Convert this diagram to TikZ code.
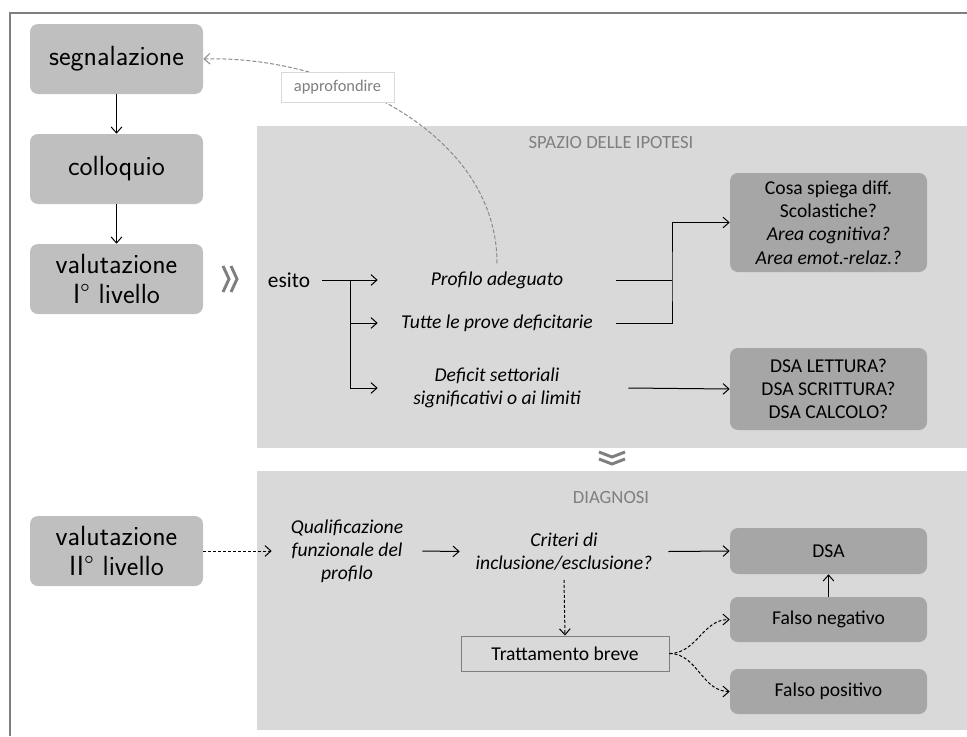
\documentclass[tikz,border=0pt]{standalone}
\usepackage{fontspec}
\setmainfont{Carlito}
\usetikzlibrary{arrows.meta}
\definecolor{cframe}{HTML}{7F7F7F}
\definecolor{cpanel}{HTML}{D9D9D9}
\definecolor{cmain}{HTML}{BFBFBF}
\definecolor{cdark}{HTML}{A6A6A6}
\definecolor{clabel}{HTML}{D9D9D9}
\definecolor{ccurve}{HTML}{8C8C8C}
\tikzset{
  mainbox/.style={rounded corners=6pt, fill=cmain, minimum width=129.75pt, minimum height=52.5pt, inner sep=0pt, align=center, font=\sffamily\fontsize{20.8}{22.5}\selectfont},
  darkbox/.style={rounded corners=6pt, fill=cdark, minimum width=147.75pt, inner sep=0pt, align=center, font=\fontsize{14.7}{17.5}\selectfont},
  itext/.style={inner sep=0pt, align=center, font=\itshape\fontsize{14.7}{17.25}\selectfont},
  conn/.style={line width=0.75pt, draw=black},
  arr/.style={conn, -{Straight Barb[length=4.5pt,width=8pt]}},
  darr/.style={arr, dash pattern=on 2.25pt off 1.5pt},
  panellabel/.style={text=cframe, inner sep=0pt, font=\fontsize{14}{17}\selectfont},
  chev/.style={draw=cframe, line width=2.2pt, miter limit=10},
}
\begin{document}
\begin{tikzpicture}[x=0.75pt,y=-0.75pt]
\useasboundingbox (0,0) rectangle (967,736);
% panels
\fill[cpanel] (257,126) rectangle (967,448);
\fill[cpanel] (257,471) rectangle (967,730);
% frame
\draw[cframe, line width=1.5pt] (10,736) -- (10,13) -- (967,13);

% left column
\node[mainbox] (seg) at (116.5,59) {segnalazione};
\node[mainbox] (coll) at (116.5,169) {colloquio};
\node[mainbox] (val1) at (116.5,279) {valutazione\\I° livello};
\node[mainbox] (val2) at (116.5,551) {valutazione\\II° livello};
\draw[arr] (seg) -- (coll);
\draw[arr] (coll) -- (val1);

% chevrons
\draw[chev] (223,266) -- (229,279) -- (223,292);
\draw[chev] (231,266) -- (237,279) -- (231,292);
\draw[chev] (599,452) -- (612,457) -- (625,452);
\draw[chev] (599,459) -- (612,464) -- (625,459);

% panel labels
\node[panellabel] (spazio) at (611,143) {SPAZIO DELLE IPOTESI};
\node[panellabel] (diag) at (611,497) {DIAGNOSI};

% hypotheses space
\node[inner sep=0pt, font=\fontsize{16}{19}\selectfont] (esito) at (289,280) {esito};
\node[itext, minimum width=178.5pt] (prof) at (497,280) {Profilo adeguato};
\node[itext, minimum width=178.5pt] (tutte) at (497,323) {Tutte le prove deficitarie};
\node[itext, minimum width=178.5pt] (defi) at (497,388) {Deficit settoriali\\significativi o ai limiti};
\node[darkbox, minimum height=74.25pt] (cosa) at (828.5,222.5) {Cosa spiega diff.\\Scolastiche?\\\textit{Area cognitiva?}\\\textit{Area emot.-relaz.?}};
\node[darkbox, minimum height=61.5pt] (dsaq) at (828.5,389) {DSA LETTURA?\\DSA SCRITTURA?\\DSA CALCOLO?};

\coordinate (split) at (350,280);
\coordinate (join) at (672,280);
\draw[arr] ([xshift=9pt]esito.east) -- (prof.west);
\draw[arr] (split) |- (tutte.west);
\draw[arr] (split) |- (defi.west);
\draw[conn] (prof.east) -- (join);
\draw[arr] (tutte.east) -| (join) |- (cosa.west);
\draw[arr] ([xshift=9pt]defi.east) -- (dsaq.west);

% approfondire loop
\draw[draw=ccurve, line width=0.75pt, dash pattern=on 3pt off 1.5pt, -{Straight Barb[length=4.5pt,width=8pt]}]
  ([yshift=6pt]prof.north) .. controls (497,130) and (330,55) .. (seg.east);
\node[draw=clabel, fill=white, text=cframe, inner sep=0pt, minimum width=84.75pt, minimum height=22.5pt, font=\fontsize{12.3}{14}\selectfont] (appr) at (337.5,87) {approfondire};

% diagnosis
\node[itext, minimum width=112.5pt] (quali) at (347,551) {Qualificazione\\funzionale del\\profilo};
\node[itext, minimum width=156pt] (crit) at (564,551.5) {Criteri di\\inclusione/esclusione?};
\node[darkbox, minimum height=34.5pt] (dsa) at (828.5,551) {DSA};
\node[darkbox, minimum height=33.75pt] (fneg) at (828.5,619.5) {Falso negativo};
\node[darkbox, minimum height=33.75pt] (fpos) at (828.5,691.5) {Falso positivo};
\node[draw=cframe, line width=0.75pt, fill=cpanel, minimum width=156pt, minimum height=26.25pt, inner sep=0pt, font=\fontsize{14.7}{17}\selectfont] (tratt) at (565,653.5) {Trattamento breve};

\draw[darr] (val2.east) -- (quali.west);
\draw[arr] (quali.east) -- (crit.west);
\draw[arr] (crit.east) -- (dsa.west);
\draw[arr] (fneg) -- (dsa);
\draw[darr] ([yshift=-7pt]crit.south) -- (tratt.north);
\draw[darr] (tratt.east) to[out=0,in=180] (fneg.west);
\draw[darr] (tratt.east) to[out=0,in=180] (fpos.west);
\end{tikzpicture}
\end{document}
